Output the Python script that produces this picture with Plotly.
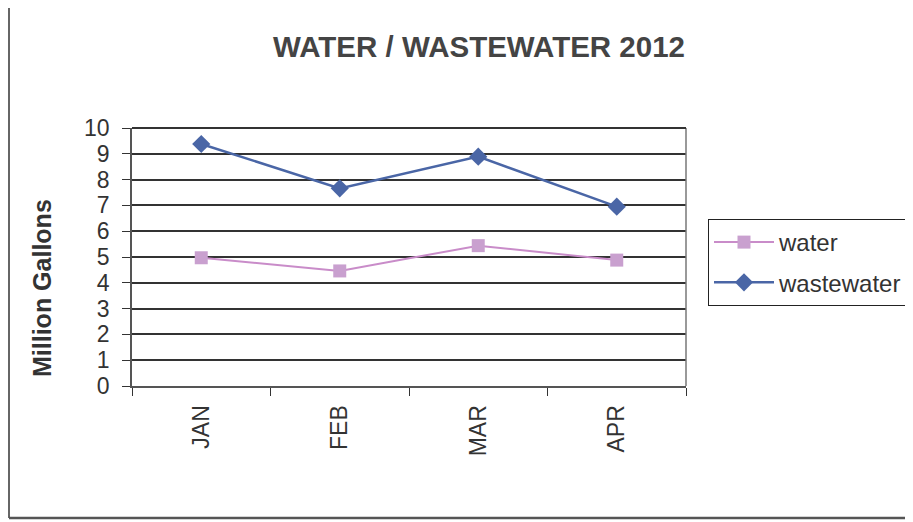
import plotly.graph_objects as go

months = ["JAN", "FEB", "MAR", "APR"]
water = [4.97, 4.46, 5.44, 4.88]
wastewater = [9.38, 7.66, 8.89, 6.95]
y_ticks = list(range(0, 11))

FONT = "Liberation Sans, Arial, sans-serif"
COLOR_WATER = "#c98cc9"
COLOR_WASTE = "#4a66a6"

fig = go.Figure()
fig.add_trace(go.Scatter(
    x=months, y=water, name="water", mode="lines+markers", legendgroup="w",
    line=dict(color=COLOR_WATER, width=2),
    marker=dict(symbol="square", size=13, color="#c9a0cf"),
))
fig.add_trace(go.Scatter(
    x=months, y=wastewater, name="wastewater", mode="lines+markers", legendgroup="ww",
    line=dict(color=COLOR_WASTE, width=2.5),
    marker=dict(symbol="diamond", size=14, color=COLOR_WASTE),
))

# page has an 8px body margin, so the figure is 8px smaller and shifted
W, H = 905, 514
L, T = 124, 120
R, B = W - 678, H - 378
pw, ph = W - L - R, H - T - B

fig.update_layout(
    width=W, height=H,
    margin=dict(l=L, r=R, t=T, b=B, autoexpand=False),
    paper_bgcolor="white", plot_bgcolor="white",
    font=dict(family=FONT, color="#333333"),
    title=dict(text="<b>WATER / WASTEWATER 2012</b>", x=471 / W, xanchor="center",
               y=1 - 39 / H, yanchor="middle", font=dict(size=29.5, color="#444444")),
    xaxis=dict(
        type="category", tickson="boundaries", ticks="outside", ticklen=8,
        tickcolor="#333333", tickangle=-90, tickfont=dict(size=23),
        ticklabelstandoff=8, automargin=False,
        showgrid=False, showline=True, linecolor="#555555", linewidth=2,
        mirror=False, range=[-0.5, 3.5],
    ),
    yaxis=dict(
        range=[0, 10], tickvals=y_ticks, ticks="outside", ticklen=8,
        tickcolor="#333333", tickfont=dict(size=23), ticklabelstandoff=8,
        automargin=False,
        showgrid=True, gridcolor="#333333", gridwidth=2,
        showline=True, linecolor="#555555", linewidth=1.5,
    ),
    legend=dict(
        x=(700 - L) / pw, y=(378 - 211) / ph, xanchor="left", yanchor="top",
        bordercolor="#222222", borderwidth=1, bgcolor="white",
        font=dict(size=24, color="#333333"), itemwidth=60, tracegroupgap=6,
    ),
    showlegend=True,
)

# y-axis title sits below the plot's centre, as in the original
fig.add_annotation(
    text="<b>Million Gallons</b>", xref="paper", yref="paper",
    x=(34 - L) / pw, y=(378 - 280) / ph, xanchor="center", yanchor="middle",
    textangle=-90, showarrow=False, font=dict(size=25, color="#333333"),
)

# plot-area right border/top border and outer chart frame
fig.add_shape(type="line", xref="paper", yref="paper", x0=1, x1=1, y0=0, y1=1,
              line=dict(color="#777777", width=1.5))
fig.add_shape(type="line", xref="paper", yref="paper", x0=0, x1=1, y0=1, y1=1,
              line=dict(color="#333333", width=2))
fig.add_shape(type="line", xref="paper", yref="paper",
              x0=(1 - L) / pw, x1=(1 - L) / pw, y0=-(510 - 378) / ph, y1=(378 - 0) / ph,
              line=dict(color="#333333", width=1.5))
fig.add_shape(type="line", xref="paper", yref="paper",
              x0=(1 - L) / pw, x1=(W - L) / pw, y0=-(510 - 378) / ph, y1=-(510 - 378) / ph,
              line=dict(color="#555555", width=2.5))

fig.write_html("out.html")
